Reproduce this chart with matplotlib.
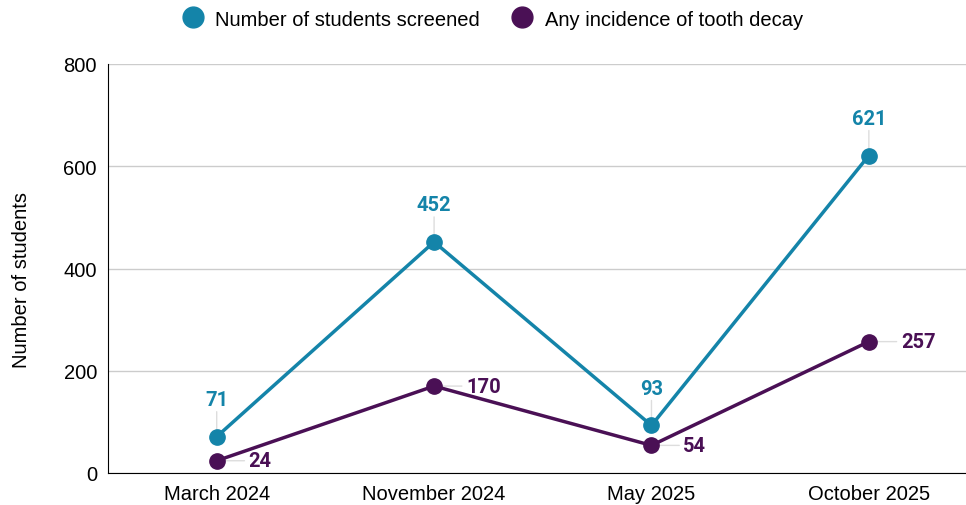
import matplotlib
matplotlib.use("Agg")
import matplotlib.pyplot as plt
from matplotlib.lines import Line2D

categories = ["March 2024", "November 2024", "May 2025", "October 2025"]
screened = [71, 452, 93, 621]
decay = [24, 170, 54, 257]
series_names = ["Number of students screened", "Any incidence of tooth decay"]
yticks = [0, 200, 400, 600, 800]

c_blue = "#1484A9"
c_purple = "#4A1055"

plt.rcParams['font.family'] = ['Liberation Sans', 'DejaVu Sans']
FS = 14.5

fig = plt.figure(figsize=(9.66, 5.06), dpi=100)
ax = fig.add_axes([108/966, 1-474/506, 1-108/966, (474-65)/506])

x = list(range(len(categories)))
ax.plot(x, screened, color=c_blue, lw=2.5, marker='o', ms=11, zorder=3)
ax.plot(x, decay, color=c_purple, lw=2.5, marker='o', ms=11, zorder=3)

for xi, v in zip(x, screened):
    ax.annotate("", xy=(xi, v), xytext=(0, 18), textcoords='offset points',
                arrowprops=dict(arrowstyle='-', color='#dddddd', lw=1, shrinkA=0, shrinkB=0), zorder=2)
    ax.annotate(str(v), xy=(xi, v), xytext=(0, 20), textcoords='offset points',
                ha='center', va='bottom', color=c_blue, fontsize=FS, fontweight='bold',
                family='Roboto')
for xi, v in zip(x, decay):
    ax.annotate("", xy=(xi, v), xytext=(20, 0), textcoords='offset points',
                arrowprops=dict(arrowstyle='-', color='#dddddd', lw=1, shrinkA=0, shrinkB=0), zorder=2)
    ax.annotate(str(v), xy=(xi, v), xytext=(23, 0), textcoords='offset points',
                ha='left', va='center', color=c_purple, fontsize=FS, fontweight='bold',
                family='Roboto')

ax.set_xlim(-0.5, (966-217)/217.3)
ax.set_ylim(0, 800)
ax.set_yticks(yticks)
ax.set_xticks(x)
ax.set_xticklabels(categories)
ax.tick_params(axis='both', length=0, labelsize=FS, colors='black', pad=8)
ax.grid(axis='y', color='#cccccc', lw=1)
ax.set_axisbelow(True)
for s in ['top', 'right']:
    ax.spines[s].set_visible(False)
ax.spines['left'].set_color('black')
ax.spines['bottom'].set_color('black')
ax.set_ylabel("Number of students", fontsize=FS)
ax.yaxis.set_label_coords(-0.09, 0.475)

handles = [Line2D([], [], ls='', marker='o', ms=15, color=c_blue),
           Line2D([], [], ls='', marker='o', ms=15, color=c_purple)]
fig.legend(handles, series_names, loc='center', bbox_to_anchor=(0.505, 1-20/506), ncol=2,
           frameon=False, fontsize=FS, handletextpad=0.1, columnspacing=1.1)

fig.savefig("out.png", dpi=100)
